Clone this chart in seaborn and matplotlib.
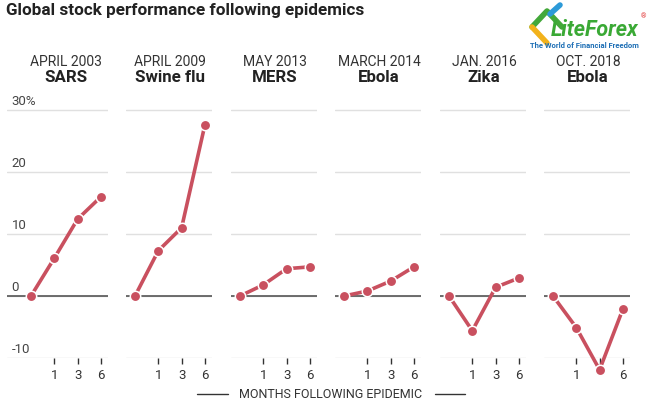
import matplotlib
matplotlib.use("Agg")
import matplotlib.pyplot as plt
import matplotlib.transforms as mtransforms
from matplotlib.lines import Line2D
import seaborn as sns
import pandas as pd

# data (% change in global stocks)
dates = ['APRIL 2003', 'APRIL 2009', 'MAY 2013', 'MARCH 2014', 'JAN. 2016', 'OCT. 2018']
names = ['SARS', 'Swine flu', 'MERS', 'Ebola', 'Zika', 'Ebola']
months = [0, 1, 3, 6]
sars = [0, 6.1, 12.4, 16.0]
swine_flu = [0, 7.3, 11.0, 27.6]
mers = [0, 1.8, 4.4, 4.7]
ebola_2014 = [0, 0.8, 2.4, 4.7]
zika = [0, -5.6, 1.4, 2.9]
ebola_2018 = [0, -5.1, -11.9, -2.1]
series = [sars, swine_flu, mers, ebola_2014, zika, ebola_2018]
y_ticks = [-10, 0, 10, 20, 30]
y_tick_labels = ['-10', '0', '10', '20', '30%']

sns.set_style("white")
plt.rcParams['font.family'] = ['Roboto', 'DejaVu Sans']

W, H = 652, 406
fig = plt.figure(figsize=(W / 100, H / 100), dpi=100)

red = '#c9505f'
u = 23.3          # px per month step
y_bottom, y_top = -10, 31
zero_px, per_pct = 297, 6.2
bottom_px = zero_px - y_bottom * per_pct
top_px = zero_px - y_top * per_pct
starts = [31, 135, 240, 344, 449, 553]

for i, vals in enumerate(series):
    xl = -1.03 if i == 0 else -0.4
    xr = 3.3
    left = starts[i] + xl * u
    ax = fig.add_axes([left / W, 1 - bottom_px / H, (xr - xl) * u / W, (bottom_px - top_px) / H])
    df = pd.DataFrame({'pos': range(len(months)), 'month': months, 'change': vals})
    sns.lineplot(data=df, x='pos', y='change', ax=ax, color=red, lw=2.6, marker='o',
                 markersize=7.5, markeredgecolor='white', markeredgewidth=1.1,
                 clip_on=False, zorder=5)
    ax.set_xlim(xl, xr)
    ax.set_ylim(y_bottom, y_top)
    ax.set_yticks(y_ticks)
    ax.yaxis.grid(True, color='#e0e0e0', lw=1)
    ax.axhline(0, color='#555555', lw=1.2, zorder=2)
    ax.set_xticks([1, 2, 3])
    labels = [str(m) for m in months[1:]]
    if i == 5:
        labels[1] = ''
    ax.set_xticklabels(labels)
    ax.tick_params(axis='x', bottom=True, length=4, width=1, color='#333333',
                   direction='out', pad=3, labelsize=9.5, labelcolor='#333333')
    ax.tick_params(axis='y', left=False, labelleft=False)
    ax.set_xlabel('')
    ax.set_ylabel('')
    for s in ax.spines.values():
        s.set_visible(False)

    tr = mtransforms.blended_transform_factory(ax.transData, fig.transFigure)
    ax.text(1.5, 1 - 61.5 / H, dates[i], transform=tr, ha='center', va='center',
            fontsize=10, color='#333333')
    ax.text(1.5, 1 - 77.5 / H, names[i], transform=tr, ha='center', va='center',
            fontsize=12.2, fontweight='bold', color='#222222')

    if i == 0:
        for v, lab in zip(y_ticks, y_tick_labels):
            ax.text(-0.83, v + 0.5, lab, ha='left', va='bottom', fontsize=9.5, color='#444444')

fig.text(6 / W, 1 - 11 / H, 'Global stock performance following epidemics', ha='left', va='center',
         fontsize=12.3, fontweight='bold', color='#222222')

fig.text(331 / W, 1 - 395 / H, 'MONTHS FOLLOWING EPIDEMIC', ha='center', va='center',
         fontsize=9, color='#333333')
for xa, xb in [(197, 228), (435, 465)]:
    fig.add_artist(Line2D([xa / W, xb / W], [1 - 395 / H, 1 - 395 / H], color='#333333', lw=1))

# logo
fig.add_artist(Line2D([532 / W, 547 / W, 562 / W], [1 - 28 / H, 1 - 12 / H, 1 - 28 / H], color='#43a83a', lw=4))
fig.add_artist(Line2D([532 / W, 547 / W], [1 - 28 / H, 1 - 44 / H], color='#f2b21b', lw=4))
fig.add_artist(Line2D([550 / W, 560 / W], [1 - 15 / H, 1 - 6 / H], color='#2c9ad8', lw=4))
fig.text(551 / W, 1 - 30 / H, 'LiteForex', ha='left', va='center', fontsize=15.5, fontweight='bold',
         fontstyle='italic', color='#3aa935')
fig.text(641 / W, 1 - 17 / H, '®', ha='left', va='center', fontsize=5, color='#e03030')
fig.text(530 / W, 1 - 45 / H, 'The World of Financial Freedom', ha='left', va='center', fontsize=5.5,
         fontweight='bold', color='#1e6fb5')

fig.savefig('out.png', dpi=100)
